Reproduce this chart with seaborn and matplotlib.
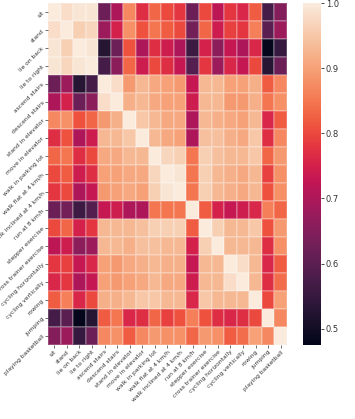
import numpy as np
import pandas as pd
import matplotlib
matplotlib.use("Agg")
import matplotlib.pyplot as plt
import seaborn as sns

activities = ["sit", "stand", "lie on back", "lie to right", "ascend stairs",
              "descend stairs", "stand in elevator", "move in elevator",
              "walk in parking lot", "walk flat at 4 km/h", "walk inclined at 4 km/h",
              "run at 8 km/h", "stepper exercise", "cross trainer exercise",
              "cycling horizontally", "cycling vertically", "rowing", "jumping",
              "playing basketball"]

row_sit = [1.0, 0.98, 0.99, 0.99, 0.62, 0.70, 0.87, 0.77, 0.83, 0.80, 0.78, 0.62, 0.80, 0.72, 0.78, 0.76, 0.82, 0.57, 0.65]
row_stand = [0.98, 1.0, 0.96, 0.97, 0.68, 0.75, 0.88, 0.81, 0.85, 0.82, 0.80, 0.63, 0.83, 0.74, 0.79, 0.78, 0.86, 0.60, 0.68]
row_lie_back = [0.99, 0.96, 1.0, 0.99, 0.53, 0.62, 0.81, 0.70, 0.77, 0.74, 0.70, 0.56, 0.75, 0.66, 0.73, 0.70, 0.76, 0.48, 0.55]
row_lie_right = [0.99, 0.97, 0.99, 1.0, 0.57, 0.66, 0.83, 0.74, 0.80, 0.77, 0.73, 0.59, 0.78, 0.68, 0.76, 0.73, 0.80, 0.53, 0.62]
row_ascend = [0.62, 0.68, 0.53, 0.57, 1.0, 0.98, 0.89, 0.93, 0.91, 0.90, 0.89, 0.73, 0.93, 0.93, 0.90, 0.90, 0.92, 0.82, 0.87]
row_descend = [0.70, 0.75, 0.62, 0.66, 0.98, 1.0, 0.92, 0.93, 0.91, 0.90, 0.90, 0.74, 0.93, 0.93, 0.89, 0.89, 0.92, 0.85, 0.88]
row_stand_elev = [0.87, 0.88, 0.81, 0.83, 0.89, 0.92, 1.0, 0.95, 0.93, 0.91, 0.91, 0.70, 0.93, 0.92, 0.91, 0.90, 0.93, 0.76, 0.82]
row_move_elev = [0.77, 0.81, 0.70, 0.74, 0.93, 0.93, 0.95, 1.0, 0.93, 0.91, 0.90, 0.70, 0.94, 0.94, 0.92, 0.91, 0.95, 0.77, 0.87]
row_parking = [0.83, 0.85, 0.77, 0.80, 0.91, 0.91, 0.93, 0.93, 1.0, 0.97, 0.96, 0.85, 0.96, 0.94, 0.93, 0.93, 0.95, 0.83, 0.89]
row_walk_flat = [0.80, 0.82, 0.74, 0.77, 0.90, 0.90, 0.91, 0.91, 0.97, 1.0, 0.99, 0.85, 0.96, 0.93, 0.92, 0.91, 0.93, 0.79, 0.88]
row_walk_incl = [0.78, 0.80, 0.70, 0.73, 0.89, 0.90, 0.91, 0.90, 0.96, 0.99, 1.0, 0.85, 0.96, 0.93, 0.92, 0.91, 0.93, 0.81, 0.88]
row_run = [0.62, 0.63, 0.56, 0.59, 0.73, 0.74, 0.70, 0.70, 0.85, 0.85, 0.85, 1.0, 0.82, 0.75, 0.73, 0.74, 0.76, 0.86, 0.83]
row_stepper = [0.80, 0.83, 0.75, 0.78, 0.93, 0.93, 0.93, 0.94, 0.96, 0.96, 0.96, 0.82, 1.0, 0.96, 0.93, 0.93, 0.95, 0.81, 0.89]
row_cross = [0.72, 0.74, 0.66, 0.68, 0.93, 0.93, 0.92, 0.94, 0.94, 0.93, 0.93, 0.75, 0.96, 1.0, 0.93, 0.93, 0.93, 0.77, 0.88]
row_cyc_h = [0.78, 0.79, 0.73, 0.76, 0.90, 0.89, 0.91, 0.92, 0.93, 0.92, 0.92, 0.73, 0.93, 0.93, 1.0, 0.98, 0.93, 0.76, 0.82]
row_cyc_v = [0.76, 0.78, 0.70, 0.73, 0.90, 0.89, 0.90, 0.91, 0.93, 0.91, 0.91, 0.74, 0.93, 0.93, 0.98, 1.0, 0.93, 0.77, 0.84]
row_rowing = [0.82, 0.86, 0.76, 0.80, 0.92, 0.92, 0.93, 0.95, 0.95, 0.93, 0.93, 0.76, 0.95, 0.93, 0.93, 0.93, 1.0, 0.80, 0.90]
row_jumping = [0.57, 0.60, 0.48, 0.53, 0.82, 0.85, 0.76, 0.77, 0.83, 0.79, 0.81, 0.86, 0.81, 0.77, 0.76, 0.77, 0.80, 1.0, 0.87]
row_basket = [0.65, 0.68, 0.55, 0.62, 0.87, 0.88, 0.82, 0.87, 0.89, 0.88, 0.88, 0.83, 0.89, 0.88, 0.82, 0.84, 0.90, 0.87, 1.0]

rows = [row_sit, row_stand, row_lie_back, row_lie_right, row_ascend, row_descend,
        row_stand_elev, row_move_elev, row_parking, row_walk_flat, row_walk_incl,
        row_run, row_stepper, row_cross, row_cyc_h, row_cyc_v, row_rowing,
        row_jumping, row_basket]

df = pd.DataFrame(rows, index=activities, columns=activities)

W, H = 355, 419
fig = plt.figure(figsize=(W / 100, H / 100), dpi=100)
ax = fig.add_axes([48 / W, (H - 345) / H, (287 - 48) / W, 342 / H])
cax = fig.add_axes([303 / W, (H - 345) / H, 18 / W, 342 / H])

sns.heatmap(df, ax=ax, cbar_ax=cax, cmap="rocket", vmin=0.475, vmax=1.0,
            linewidths=0.1, linecolor=(1, 1, 1, 0.2))

ax.set_xticks(np.arange(len(activities)) + 0.5)
ax.set_yticks(np.arange(len(activities)) + 0.5)
ax.set_xticklabels(activities, rotation=45, ha="right", rotation_mode="anchor",
                   fontsize=4.3, color="#333333")
ax.set_yticklabels(activities, rotation=45, ha="right", rotation_mode="anchor",
                   fontsize=4.3, color="#333333")
ax.tick_params(axis="both", length=2, width=0.5, pad=1.2, color="#333333")

cax.set_yticks([0.5, 0.6, 0.7, 0.8, 0.9, 1.0])
cax.tick_params(labelsize=6, length=2, width=0.5, pad=1.5, labelcolor="#333333")

fig.savefig("out.png", dpi=100)
